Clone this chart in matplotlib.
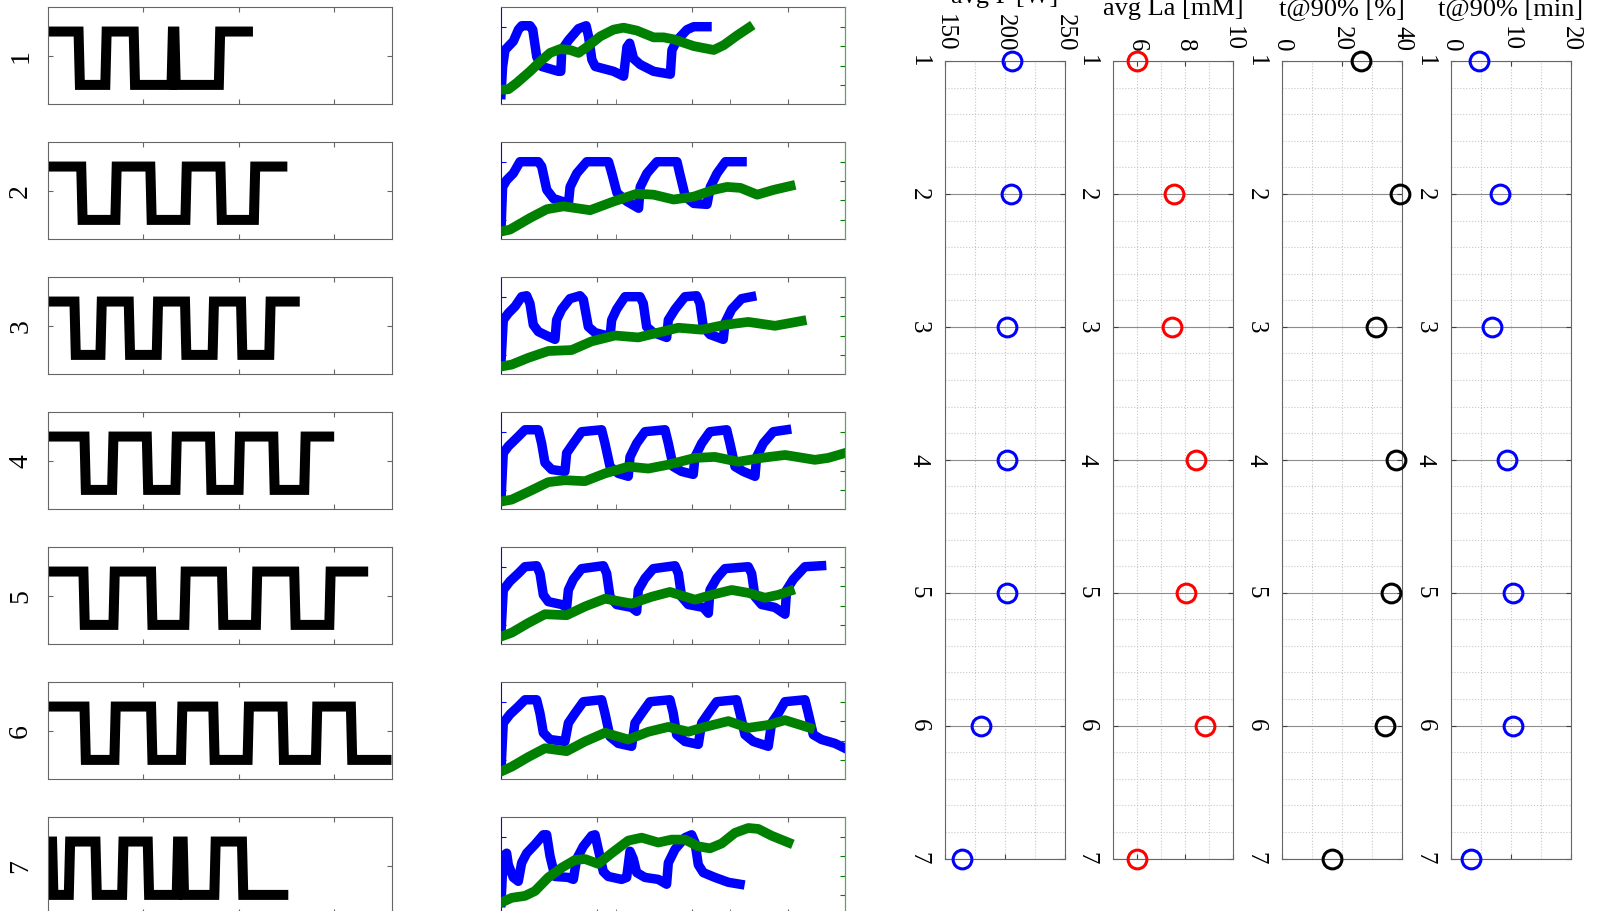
import matplotlib.pyplot as plt
import numpy as np

plt.rcParams['font.family'] = ['Liberation Serif', 'DejaVu Serif']

# --- work profiles: switch times [s] (start high, then alternate), end [s]
P_HIGH, P_LOW = 300, 80
switch_t = [
    [332, 612, 909, 1305, 1335, 1800],
    [360, 717, 1083, 1450, 1817, 2167],
    [289, 561, 857, 1150, 1446, 1735, 2032, 2328],
    [394, 683, 1046, 1346, 1708, 2007, 2370, 2694],
    [383, 697, 1091, 1439, 1833, 2188, 2589, 2956],
    [394, 707, 1091, 1404, 1742, 2101, 2467, 2816, 3182],
    [55, 230, 509, 788, 1056, 1359, 1422, 1753, 2042],
]
end_t = [2150, 2510, 2640, 3000, 3356, 3600, 2520]

# --- responses (normalised): blue = VO2, green = lactate
vo2_t = [
    [0, 17, 42, 129, 182, 217, 304, 332, 374, 426, 601, 626, 636, 706, 811, 891, 916, 951, 986, 1178,
     1283, 1318, 1346, 1388, 1457, 1597, 1772, 1789, 1842, 1947, 2017, 2156],
    [0, 17, 59, 129, 199, 391, 426, 479, 549, 706, 723, 793, 898, 1125, 1160, 1213, 1318, 1440, 1457,
     1527, 1632, 1842, 1870, 1929, 2017, 2156, 2191, 2261, 2349, 2523],
    [0, 24, 77, 147, 216, 269, 303, 338, 391, 495, 565, 582, 635, 722, 827, 862, 914, 984, 1141, 1158,
     1210, 1298, 1455, 1489, 1524, 1594, 1734, 1751, 1821, 1925, 2047, 2082, 2117, 2187, 2326, 2344,
     2414, 2518, 2623],
    [0, 24, 77, 181, 251, 391, 425, 460, 530, 669, 687, 757, 844, 1053, 1088, 1141, 1228, 1332, 1350,
     1420, 1507, 1716, 1751, 1803, 1890, 2012, 2030, 2100, 2187, 2362, 2396, 2449, 2536, 2658, 2675,
     2745, 2850, 2989],
    [0, 24, 94, 181, 251, 373, 408, 443, 495, 635, 687, 705, 757, 844, 1071, 1106, 1141, 1210, 1367,
     1420, 1437, 1507, 1594, 1821, 1856, 1890, 1960, 2117, 2170, 2187, 2257, 2344, 2588, 2623, 2658,
     2727, 2867, 2972, 2989, 3059, 3181, 3355],
    [0, 24, 94, 181, 251, 373, 408, 443, 513, 669, 705, 774, 862, 1053, 1088, 1141, 1228, 1367, 1402,
     1472, 1559, 1768, 1803, 1838, 1925, 2065, 2100, 2170, 2257, 2466, 2501, 2553, 2640, 2797, 2832,
     2902, 2972, 3181, 3216, 3268, 3355, 3495, 3600],
    [0, 24, 59, 77, 129, 181, 216, 269, 356, 443, 478, 513, 565, 704, 757, 792, 861, 949, 984, 1018,
     1071, 1123, 1262, 1315, 1350, 1385, 1420, 1507, 1646, 1733, 1751, 1821, 1925, 1995, 2030, 2065,
     2117, 2239, 2379, 2501],
]
vo2_v = [
    [0.10, 0.39, 0.56, 0.65, 0.77, 0.81, 0.81, 0.77, 0.49, 0.39, 0.34, 0.34, 0.56, 0.66, 0.78, 0.81,
     0.70, 0.46, 0.39, 0.34, 0.29, 0.59, 0.63, 0.47, 0.41, 0.34, 0.31, 0.56, 0.66, 0.77, 0.80, 0.80],
    [0.10, 0.54, 0.61, 0.68, 0.80, 0.80, 0.75, 0.51, 0.42, 0.37, 0.54, 0.68, 0.80, 0.80, 0.68, 0.48,
     0.39, 0.32, 0.54, 0.68, 0.80, 0.80, 0.68, 0.44, 0.37, 0.36, 0.54, 0.68, 0.80, 0.80],
    [0.12, 0.56, 0.63, 0.70, 0.80, 0.81, 0.73, 0.51, 0.44, 0.39, 0.36, 0.56, 0.67, 0.78, 0.81, 0.77,
     0.49, 0.43, 0.39, 0.56, 0.67, 0.80, 0.80, 0.73, 0.49, 0.43, 0.38, 0.56, 0.67, 0.80, 0.81, 0.73,
     0.49, 0.41, 0.36, 0.53, 0.67, 0.78, 0.80],
    [0.10, 0.58, 0.65, 0.75, 0.82, 0.82, 0.68, 0.48, 0.41, 0.39, 0.58, 0.68, 0.80, 0.82, 0.68, 0.44,
     0.37, 0.34, 0.54, 0.68, 0.80, 0.82, 0.68, 0.44, 0.39, 0.36, 0.54, 0.68, 0.80, 0.82, 0.68, 0.44,
     0.39, 0.34, 0.54, 0.68, 0.80, 0.82],
    [0.12, 0.56, 0.65, 0.73, 0.80, 0.81, 0.73, 0.51, 0.44, 0.41, 0.38, 0.56, 0.67, 0.78, 0.81, 0.73,
     0.49, 0.41, 0.38, 0.34, 0.56, 0.68, 0.78, 0.81, 0.73, 0.49, 0.41, 0.38, 0.32, 0.56, 0.68, 0.78,
     0.80, 0.73, 0.49, 0.41, 0.38, 0.31, 0.56, 0.67, 0.80, 0.81],
    [0.10, 0.58, 0.67, 0.75, 0.82, 0.82, 0.68, 0.48, 0.41, 0.39, 0.58, 0.68, 0.80, 0.82, 0.68, 0.44,
     0.37, 0.34, 0.58, 0.68, 0.80, 0.82, 0.68, 0.46, 0.39, 0.36, 0.58, 0.68, 0.80, 0.82, 0.68, 0.46,
     0.39, 0.34, 0.58, 0.68, 0.80, 0.82, 0.68, 0.46, 0.41, 0.37, 0.32],
    [0.12, 0.60, 0.63, 0.51, 0.38, 0.34, 0.53, 0.63, 0.72, 0.82, 0.82, 0.60, 0.39, 0.38, 0.36, 0.57,
     0.70, 0.81, 0.82, 0.67, 0.44, 0.39, 0.36, 0.38, 0.65, 0.57, 0.43, 0.38, 0.36, 0.31, 0.53, 0.67,
     0.79, 0.82, 0.74, 0.51, 0.43, 0.38, 0.33, 0.31],
]
la_t = [
    [0, 77, 164, 304, 409, 514, 619, 723, 811, 898, 1038, 1178, 1283, 1422, 1597, 1702, 1807, 2017,
     2226, 2331, 2471, 2593],
    [0, 94, 304, 479, 654, 933, 1178, 1422, 1597, 1807, 2017, 2226, 2366, 2506, 2681, 2855, 3030],
    [0, 112, 286, 495, 739, 949, 1193, 1437, 1646, 1856, 2100, 2344, 2588, 2867, 3146],
    [0, 112, 286, 495, 669, 879, 1088, 1332, 1542, 1751, 2030, 2239, 2483, 2727, 2972, 3285, 3425, 3600],
    [0, 112, 286, 460, 687, 879, 1088, 1367, 1577, 1768, 2030, 2205, 2414, 2588, 2763, 2902, 3024],
    [0, 112, 286, 460, 687, 879, 1088, 1332, 1542, 1751, 1960, 2135, 2379, 2588, 2797, 2972, 3233],
    [0, 112, 251, 356, 495, 635, 774, 879, 1018, 1158, 1332, 1472, 1646, 1786, 1925, 2065, 2187, 2309,
     2449, 2588, 2693, 2832, 3007],
]
la_v = [
    [0.15, 0.155, 0.22, 0.34, 0.44, 0.53, 0.57, 0.56, 0.53, 0.59, 0.70, 0.77, 0.79, 0.76, 0.69, 0.69,
     0.67, 0.60, 0.56, 0.61, 0.71, 0.79],
    [0.08, 0.10, 0.22, 0.31, 0.34, 0.30, 0.39, 0.47, 0.46, 0.41, 0.44, 0.51, 0.54, 0.53, 0.46, 0.51, 0.55],
    [0.08, 0.10, 0.17, 0.24, 0.25, 0.34, 0.40, 0.38, 0.43, 0.48, 0.46, 0.51, 0.54, 0.50, 0.55],
    [0.08, 0.10, 0.18, 0.28, 0.30, 0.29, 0.37, 0.44, 0.42, 0.46, 0.53, 0.54, 0.49, 0.53, 0.56, 0.51,
     0.53, 0.58],
    [0.08, 0.12, 0.22, 0.31, 0.30, 0.39, 0.47, 0.42, 0.49, 0.54, 0.46, 0.51, 0.56, 0.53, 0.48, 0.51, 0.55],
    [0.08, 0.13, 0.23, 0.32, 0.29, 0.39, 0.48, 0.41, 0.49, 0.54, 0.49, 0.54, 0.60, 0.53, 0.56, 0.61, 0.53],
    [0.12, 0.17, 0.19, 0.24, 0.38, 0.48, 0.56, 0.57, 0.52, 0.63, 0.76, 0.79, 0.74, 0.77, 0.77, 0.70,
     0.68, 0.73, 0.84, 0.89, 0.88, 0.81, 0.74],
]
lag_ticks = [[1200, 2400]] * 4 + [[900, 1800, 2700]] * 2 + [[1200, 2400]]

# --- summary per protocol
protocol = [1, 2, 3, 4, 5, 6, 7]
avg_p = [206, 205, 202, 202, 202, 180, 164]
avg_la = [6.0, 7.55, 7.45, 8.45, 8.05, 8.85, 6.0]
t90_pct = [26.2, 39.2, 31.2, 38.1, 36.4, 34.4, 16.6]
t90_min = [4.6, 8.2, 6.8, 9.4, 10.25, 10.4, 3.4]

W, H = 1597, 911
fig = plt.figure(figsize=(W / 100, H / 100), dpi=100)


def px_axes(x, y, w, h):
    return fig.add_axes([x / W, 1 - (y + h) / H, w / W, h / H])


FRAME = '0.4'
TL = 3.5

for i in range(7):
    top = 7.3 + 135 * i

    # work profile
    ax = px_axes(47.5, top, 344, 97)
    tt, pp = [0], [P_HIGH]
    level = P_HIGH
    for s in switch_t[i]:
        nxt = P_LOW if level == P_HIGH else P_HIGH
        tt += [s - 7, s + 7]
        pp += [level, nxt]
        level = nxt
    tt.append(end_t[i])
    pp.append(level)
    ax.plot(tt, pp, color='k', lw=7.2, solid_joinstyle='miter', solid_capstyle='butt')
    ax.set_xlim(0, 3600)
    ax.set_ylim(0, 400)
    ax.set_xticks([1000, 2000, 3000])
    ax.set_yticks([200])
    ax.tick_params(direction='in', length=TL, top=True, right=True, color=FRAME,
                   labelbottom=False, labelleft=False)
    for sp in ax.spines.values():
        sp.set_color(FRAME)
    ax.text(-0.078, 0.5, str(protocol[i]), transform=ax.transAxes, rotation=90,
            ha='center', va='center', fontsize=20)

    # VO2 / lactate response
    ax = px_axes(501, top, 344, 97)
    ax.plot(vo2_t[i], vo2_v[i], color='#0000ff', lw=6.8, solid_joinstyle='round')
    ax.set_xlim(0, 3600)
    ax.set_ylim(0, 1)
    ax.set_xticks([1000, 2000, 3000])
    ax.set_xticks(lag_ticks[i], minor=True)
    ax.set_yticks([0.2, 0.4, 0.6, 0.8])
    ax.tick_params(direction='in', length=TL, top=True, color=FRAME,
                   labelbottom=False, labelleft=False)
    ax.tick_params(which='minor', direction='in', length=TL, bottom=True, top=False, color=FRAME)
    ax.tick_params(axis='y', colors='#0000ff')
    for sp in ax.spines.values():
        sp.set_color(FRAME)
    ax.spines['left'].set_color('#0000ff')
    ax2 = ax.twinx()
    ax2.plot(la_t[i], la_v[i], color='#008000', lw=7, solid_joinstyle='round')
    ax2.set_ylim(0, 1)
    ax2.set_yticks([0.2, 0.4, 0.6, 0.8])
    ax2.tick_params(direction='in', length=TL, colors='#008000', labelright=False)
    for sp in ax2.spines.values():
        sp.set_visible(False)
    ax2.spines['right'].set_visible(True)
    ax2.spines['right'].set_color('#4caf50')

# summary panels
panels = [
    (avg_p, 'avg P [W]', (150, 250), [150, 200, 250], 25, '#0000ff'),
    (avg_la, 'avg La [mM]', (5, 10), [6, 8, 10], 1, '#ff0000'),
    (t90_pct, 't@90% [%]', (0, 40), [0, 20, 40], 10, 'k'),
    (t90_min, 't@90% [min]', (0, 20), [0, 10, 20], 5, '#0000ff'),
]
right_x = [945, 1113, 1282, 1451]
for x0, (vals, label, lim, major, step, col) in zip(right_x, panels):
    ax = px_axes(x0, 61, 120, 797.6)
    ax.set_xlim(*lim)
    ax.set_ylim(7, 1)
    ax.set_axisbelow(True)
    ax.xaxis.tick_top()
    ax.xaxis.set_label_position('top')
    ax.set_xticks(major)
    ax.set_xticks(np.arange(lim[0], lim[1] + step / 2, step), minor=True)
    ax.set_xticklabels([str(v) for v in major], rotation=-90, fontsize=18)
    ax.set_yticks(protocol)
    ax.set_yticks(np.arange(1, 7.01, 0.2), minor=True)
    ax.set_yticklabels([str(p) for p in protocol], rotation=-90, fontsize=18, va='center')
    ax.tick_params(direction='in', length=TL, bottom=True, right=True, color='0.25')
    ax.tick_params(axis='x', pad=7)
    ax.tick_params(axis='y', pad=11)
    ax.tick_params(which='minor', length=0)
    ax.xaxis.grid(True, which='both', ls=':', color='0.78', lw=0.8)
    ax.yaxis.grid(True, which='minor', ls=':', color='0.78', lw=0.8)
    ax.yaxis.grid(True, which='major', ls='-', color='0.55', lw=0.8)
    for sp in ax.spines.values():
        sp.set_color(FRAME)
    ax.set_xlabel(label, fontsize=19, labelpad=8)
    ax.plot(vals, protocol, 'o', mfc='none', mec=col, ms=13.5, mew=2.2, clip_on=False, zorder=5)

fig.savefig('out.png', dpi=100)
